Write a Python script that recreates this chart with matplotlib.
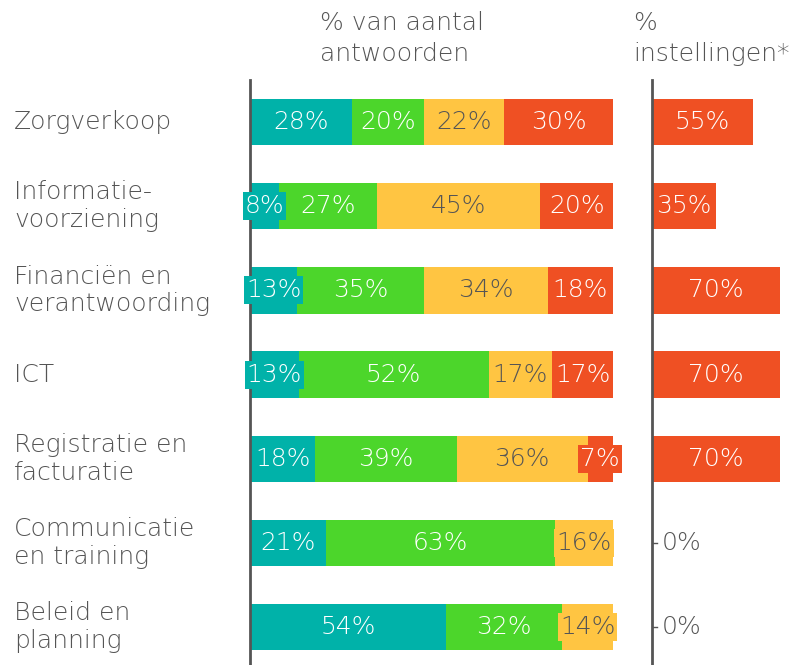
import matplotlib.pyplot as plt
import numpy as np
from matplotlib.transforms import blended_transform_factory

categories = [
    "Zorgverkoop",
    "Informatie-\nvoorziening",
    "Financiën en\nverantwoording",
    "ICT",
    "Registratie en\nfacturatie",
    "Communicatie\nen training",
    "Beleid en\nplanning",
]
# % van aantal antwoorden, four answer groups per row
teal = [28, 8, 13, 13.4, 18, 21, 54]
green = [20, 27, 35, 52.4, 39, 63, 32]
yellow = [22, 45, 34, 17.4, 36, 16, 14]
red = [30, 20, 18, 16.8, 7, 0, 0]
# % instellingen
instellingen = [55, 35, 70, 70, 70, 0, 0]

COLORS = ["#00B2A9", "#4CD62B", "#FFC542", "#EF5023"]
TEXT_COLORS = ["white", "white", "#555555", "white"]
GRAY = "#555555"
SIZE = 18
WEIGHT = 200

plt.rcParams["font.family"] = ["DejaVu Sans"]

fig = plt.figure(figsize=(7.91, 6.65), dpi=100)
ax = fig.add_axes([250 / 791, 0, 363 / 791, 585 / 665])
ax2 = fig.add_axes([652 / 791, 0, 139 / 791, 585 / 665])

y = np.arange(len(categories))
height = 0.55

left = np.zeros(len(categories))
for values, color, tcolor in zip([teal, green, yellow, red], COLORS, TEXT_COLORS):
    values = np.array(values, dtype=float)
    ax.barh(y, values, left=left, height=height, color=color, edgecolor="none")
    for yi, v, l in zip(y, values, left):
        if v == 0:
            continue
        # label box in the segment colour, visible only when the label is wider
        ax.text(
            l + v / 2, yi, f"{v:.0f}%", ha="center", va="center", color=tcolor,
            fontsize=SIZE, fontweight=WEIGHT,
            bbox=dict(boxstyle="square,pad=0.08", fc=color, ec="none"),
        )
    left += values

ax2.barh(y, instellingen, height=height, color=COLORS[3], edgecolor="none")
for yi, v in zip(y, instellingen):
    if v > 0:
        ax2.text(v / 2, yi, f"{v}%", ha="center", va="center", color="white",
                 fontsize=SIZE, fontweight=WEIGHT)
    else:
        ax2.plot([0, 3], [yi, yi], color=GRAY, lw=1)
        ax2.text(5.5, yi, "0%", ha="left", va="center", color=GRAY,
                 fontsize=SIZE, fontweight=WEIGHT)

for a, xmax in [(ax, 100), (ax2, 76)]:
    a.set_xlim(0, xmax)
    a.set_ylim(6.45, -0.5)
    for side in ["top", "right", "bottom"]:
        a.spines[side].set_visible(False)
    a.spines["left"].set_color(GRAY)
    a.spines["left"].set_linewidth(2)
    a.set_xticks([])
    a.set_yticks([])

trans = blended_transform_factory(fig.transFigure, ax.transData)
for yi, cat in zip(y, categories):
    ax.text(14 / 791, yi, cat, transform=trans, ha="left", va="center",
            fontsize=SIZE, color=GRAY, fontweight=WEIGHT, linespacing=1.2)

fig.text(320 / 791, 1 - 11 / 665, "% van aantal\nantwoorden", ha="left", va="top",
         fontsize=SIZE, color=GRAY, fontweight=WEIGHT, linespacing=1.38)
fig.text(633 / 791, 1 - 11 / 665, "%\ninstellingen*", ha="left", va="top",
         fontsize=SIZE, color=GRAY, fontweight=WEIGHT, linespacing=1.38)

fig.savefig("out.png", dpi=100)
